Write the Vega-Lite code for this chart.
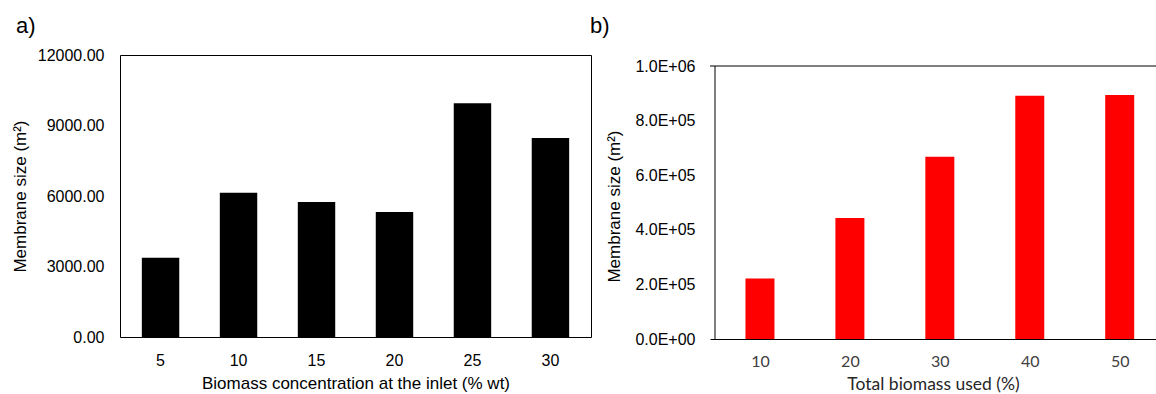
{
  "$schema": "https://vega.github.io/schema/vega-lite/v6.json",
  "padding": {"left": 10, "top": 14, "right": 0, "bottom": 0},
  "background": "white",
  "bounds": "flush",
  "spacing": 119,
  "config": {
    "view": {"stroke": null},
    "axis": {"grid": false, "ticks": false, "tickSize": 0, "labelFont": "Liberation Sans", "titleFont": "Liberation Sans", "labelFontSize": 16, "titleFontSize": 17, "titleFontWeight": "normal", "labelColor": "#000000", "titleColor": "#000000"},
    "title": {"font": "Liberation Sans", "fontSize": 22, "fontWeight": "normal", "color": "#000000", "anchor": "start", "frame": "group"}
  },
  "datasets": {
    "a": [
      {"conc": 5, "size": 3374},
      {"conc": 10, "size": 6140},
      {"conc": 15, "size": 5745},
      {"conc": 20, "size": 5319},
      {"conc": 25, "size": 9943},
      {"conc": 30, "size": 8468}
    ],
    "b": [
      {"used": 10, "size": 222000},
      {"used": 20, "size": 443000},
      {"used": 30, "size": 668000},
      {"used": 40, "size": 891000},
      {"used": 50, "size": 894000}
    ]
  },
  "hconcat": [
    {
      "width": 471,
      "height": 282,
      "title": {"text": "a)", "dx": -104, "offset": 9},
      "view": {"stroke": "#000000", "strokeWidth": 1},
      "data": {"name": "a"},
      "mark": {"type": "bar", "color": "#000000"},
      "encoding": {
        "x": {
          "field": "conc", "type": "ordinal", "sort": null,
          "scale": {"paddingInner": 0.52, "paddingOuter": 0.28},
          "axis": {"title": "Biomass concentration at the inlet (% wt)", "labelAngle": 0, "domain": false, "labelPadding": 15, "titlePadding": 7}
        },
        "y": {
          "field": "size", "type": "quantitative",
          "scale": {"domain": [0, 12000], "nice": false},
          "axis": {"values": [0, 3000, 6000, 9000, 12000], "format": ".2f", "title": "Membrane size (m²)", "domain": false, "labelPadding": 16, "titlePadding": 8}
        }
      }
    },
    {
      "width": 446,
      "height": 284,
      "title": {"text": "b)", "dx": -120, "offset": 17},
      "layer": [
        {
          "data": {"name": "b"},
          "mark": {"type": "bar", "color": "#FF0000", "size": 29},
          "encoding": {
            "x": {
              "field": "used", "type": "quantitative",
              "scale": {"domain": [5, 53.48], "nice": false, "zero": false},
              "axis": {"values": [10, 20, 30, 40, 50], "title": "Total biomass used (%)", "domain": true, "domainColor": "#000000", "domainWidth": 1.2, "labelFont": "Lato", "titleFont": "Lato", "labelFontSize": 16, "titleFontSize": 17.5, "labelColor": "#404040", "titleColor": "#262626", "labelPadding": 14, "titlePadding": 6, "labelFlush": false}
            },
            "y": {
              "field": "size", "type": "quantitative",
              "scale": {"domain": [0, 1040300], "nice": false},
              "axis": {"values": [0, 200000, 400000, 600000, 800000, 1000000], "labelExpr": "datum.value == 0 ? '0.0E+00' : (datum.value >= 1000000 ? '1.0E+06' : format(datum.value / 100000, '.1f') + 'E+05')", "title": "Membrane size (m²)", "domain": false, "labelPadding": 15, "titlePadding": 11, "titleY": 151}
            }
          }
        },
        {
          "data": {"values": [{}]},
          "mark": {"type": "rule", "color": "#000000", "strokeWidth": 1.2},
          "encoding": {"y": {"datum": 1000000}}
        },
        {
          "data": {"values": [{}]},
          "mark": {"type": "rule", "color": "#000000", "strokeWidth": 1},
          "encoding": {"x": {"datum": 5}, "y": {"datum": 0}, "y2": {"datum": 1000000}}
        }
      ]
    }
  ]
}
